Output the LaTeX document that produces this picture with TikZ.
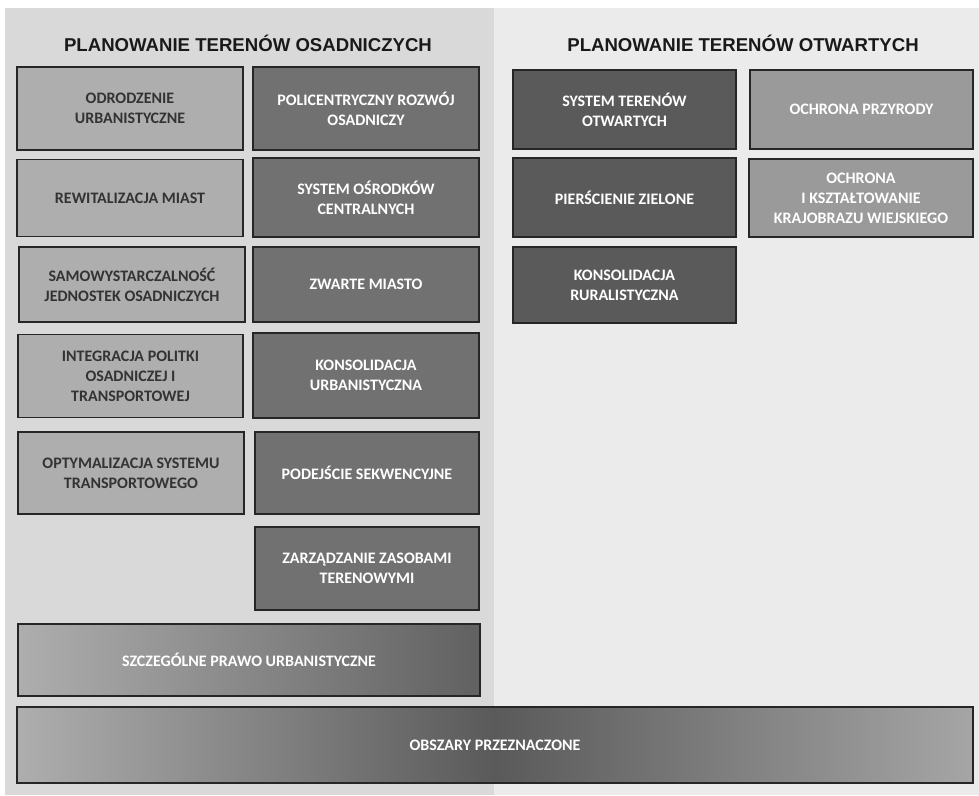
\documentclass[tikz,border=0pt]{standalone}
\usepackage{fontspec}
\setmainfont{Carlito}
\newfontfamily\titlefont{Liberation Sans}
\usetikzlibrary{positioning}
\definecolor{osbg}{HTML}{D9D9D9}
\definecolor{otbg}{HTML}{EBEBEB}
\definecolor{oslight}{HTML}{AEAEAE}
\definecolor{osdark}{HTML}{717171}
\definecolor{otdark}{HTML}{5A5A5A}
\definecolor{otlight}{HTML}{9A9A9A}
\definecolor{txtdark}{HTML}{333333}

\begin{document}
\begin{tikzpicture}[x=1pt,y=-1pt,
    box/.style={draw=black!85,line width=1.2pt,align=center,inner sep=2pt,
       font=\bfseries\fontsize{16}{20}\selectfont,minimum width=226pt},
    lightbox/.style={box,fill=oslight,text=txtdark},
    darkbox/.style={box,fill=osdark,text=white},
    opendark/.style={box,fill=otdark,text=white,minimum width=223pt},
    openlight/.style={box,fill=otlight,text=white,minimum width=223pt},
    paneltitle/.style={font=\titlefont\bfseries\fontsize{18.6}{22}\selectfont,text=black!90}]
  \useasboundingbox (0,0) rectangle (979,795);
  \fill[white] (0,0) rectangle (979,795);
  % two panels
  \fill[osbg] (5,8) rectangle (494,795);
  \fill[otbg] (494,8) rectangle (979,795);
  \node[paneltitle] (ostitle) at (248,43) {PLANOWANIE TERENÓW OSADNICZYCH};
  \node[paneltitle] (ottitle) at (743,43) {PLANOWANIE TERENÓW OTWARTYCH};
  % settlement areas, left column
  \node[lightbox,minimum height=83pt] (odrodz) at (130,108.5) {ODRODZENIE\\URBANISTYCZNE};
  \node[lightbox,minimum height=77pt] (rewit) at (130,198) {REWITALIZACJA MIAST};
  \node[lightbox,minimum height=75pt] (samow) at (132,284.5) {SAMOWYSTARCZALNOŚĆ\\JEDNOSTEK OSADNICZYCH};
  \node[lightbox,minimum height=83pt,minimum width=225pt] (integr) at (130.5,376) {INTEGRACJA POLITKI\\OSADNICZEJ I\\TRANSPORTOWEJ};
  \node[lightbox,minimum height=82pt] (optym) at (131,473) {OPTYMALIZACJA SYSTEMU\\TRANSPORTOWEGO};
  % settlement areas, right column
  \node[darkbox,minimum height=83pt] (policen) at (366,108.5) {POLICENTRYCZNY ROZWÓJ\\OSADNICZY};
  \node[darkbox,minimum height=79pt] (osrodki) at (366,197.5) {SYSTEM OŚRODKÓW\\CENTRALNYCH};
  \node[darkbox,minimum height=75pt] (zwarte) at (366,284.5) {ZWARTE MIASTO};
  \node[darkbox,minimum height=85pt] (konsurb) at (366,375.5) {KONSOLIDACJA\\URBANISTYCZNA};
  \node[darkbox,minimum height=82pt,minimum width=224pt] (podejs) at (367,473) {PODEJŚCIE SEKWENCYJNE};
  \node[darkbox,minimum height=83pt,minimum width=224pt] (zarzadz) at (367,568.5) {ZARZĄDZANIE ZASOBAMI\\TERENOWYMI};
  \node[box,text=white,left color=oslight,right color=black!62,minimum width=462pt,minimum height=72pt] (prawo) at (249,660) {SZCZEGÓLNE PRAWO URBANISTYCZNE};
  % open areas
  \node[opendark,minimum height=79pt] (systot) at (624.5,109.5) {SYSTEM TERENÓW\\OTWARTYCH};
  \node[openlight,minimum height=79pt] (przyr) at (861.5,109.5) {OCHRONA PRZYRODY};
  \node[opendark,minimum height=79pt] (piersc) at (624.5,197.5) {PIERŚCIENIE ZIELONE};
  \node[openlight,minimum height=78pt,minimum width=224pt] (krajob) at (861,198) {OCHRONA\\I KSZTAŁTOWANIE\\KRAJOBRAZU WIEJSKIEGO};
  \node[opendark,minimum height=76pt] (konsrur) at (624.5,285) {KONSOLIDACJA\\RURALISTYCZNA};
  % common base
  \node[box,text=white,left color=oslight,right color=oslight!95!black,middle color=otdark,minimum width=956pt,minimum height=76pt] (obszary) at (495,745) {OBSZARY PRZEZNACZONE};
\end{tikzpicture}
\end{document}
